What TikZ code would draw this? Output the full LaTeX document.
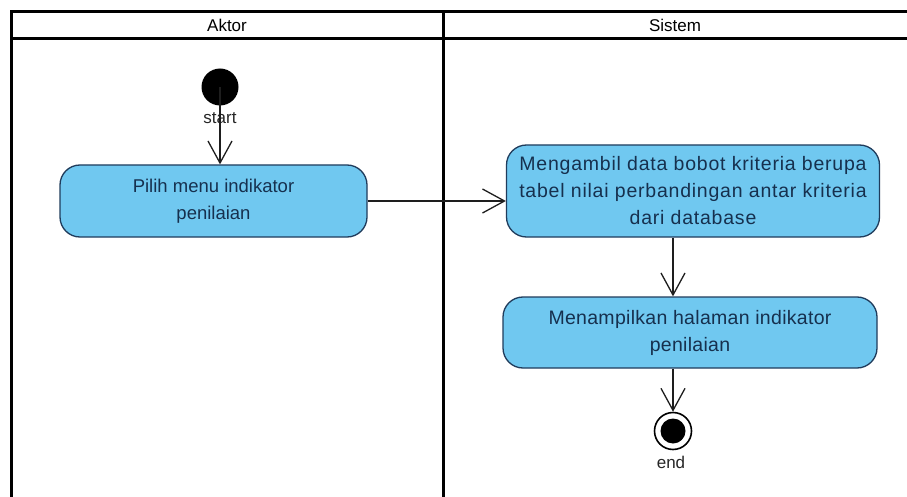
\documentclass[tikz,border=0pt]{standalone}
\usepackage{fontspec}
\setmainfont{Liberation Sans}
\usetikzlibrary{arrows.meta}

\definecolor{actfill}{RGB}{112,200,240}
\definecolor{actline}{RGB}{32,60,92}
\definecolor{acttext}{RGB}{22,48,78}
\definecolor{wire}{RGB}{30,30,30}

\tikzset{
  lane/.style={line width=3pt, draw=black},
  action/.style={draw=actline, line width=1.3pt, fill=actfill, rounded corners=20pt,
    align=center, text=acttext, font=\fontsize{18.5}{27}\selectfont, inner sep=0pt},
  flow/.style={draw=wire, line width=1.3pt, -{Straight Barb[length=22pt,width=24pt,line width=1.3pt]}},
  lanetitle/.style={font=\fontsize{17}{20}\selectfont, text=black},
  caption/.style={font=\fontsize{17}{20}\selectfont, text=black!85},
}
% slightly wider text for the system-side actions
\newcommand{\widetext}[1]{\fontsize{19.5}{27}\selectfont\addfontfeatures{LetterSpace=#1}}

\begin{document}
\begin{tikzpicture}[x=1pt,y=-1pt]
\useasboundingbox (0,0) rectangle (907,497);
\fill[white] (0,0) rectangle (907,497);
\clip (0,0) rectangle (907,497);

% swimlane frame
\draw[lane] (11,505) -- (11,12) -- (915,12);
\draw[lane] (11,39) -- (915,39);
\draw[lane] (443,12) -- (443,505);
\node[lanetitle] (laneA) at (227,25.5) {Aktor};
\node[lanetitle] (laneS) at (675,25.5) {Sistem};

% initial node
\node[circle, fill=black, minimum size=37pt, inner sep=0pt] (start) at (220,87) {};
\node[caption] (startlbl) at (220,118) {start};

% actions
\node[action, minimum width=307pt, minimum height=72pt] (pilih) at (213.5,201)
  {Pilih menu indikator\\penilaian};
\node[action, minimum width=373pt, minimum height=92pt] (ambil) at (693,191)
  {\widetext{4}Mengambil data bobot kriteria berupa\\
   \widetext{4}tabel nilai perbandingan antar kriteria\\
   \widetext{4}dari database};
\node[action, minimum width=374pt, minimum height=71pt] (tampil) at (690,332.5)
  {\widetext{1.5}Menampilkan halaman indikator\\
   \widetext{1.5}penilaian};

% final node
\node[circle, draw=black, line width=1.6pt, fill=white, minimum size=37pt, inner sep=0pt] (fin) at (673,431) {};
\node[circle, fill=black, minimum size=25pt, inner sep=0pt] (finc) at (fin.center) {};
\node[caption] (endlbl) at (671,462) {end};

% control flows
\draw[flow] (start.center) -- (start.center |- pilih.north);
\draw[flow] (pilih.east) -- (pilih.east -| ambil.west);
\draw[flow] (ambil.south -| fin) -- (tampil.north -| fin);
\draw[flow] (tampil.south -| fin) -- (fin.north);
\end{tikzpicture}
\end{document}
